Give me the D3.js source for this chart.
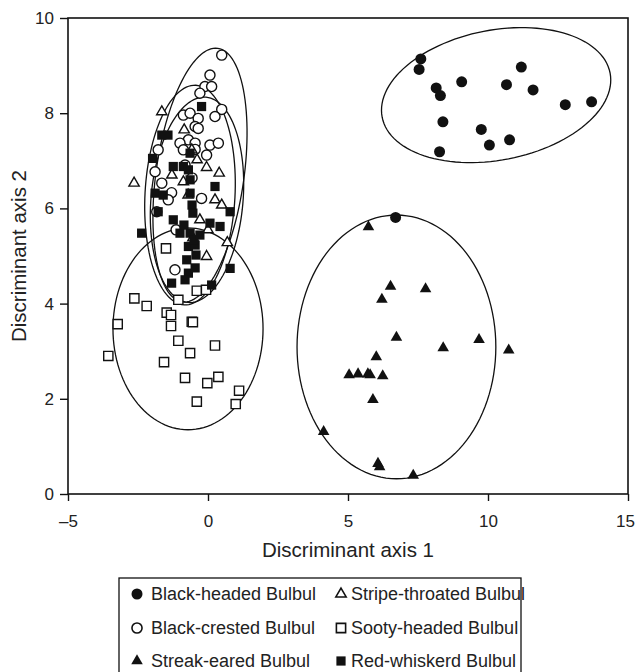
<!DOCTYPE html>
<html><head><meta charset="utf-8">
<script src="https://cdn.jsdelivr.net/npm/d3@7/dist/d3.min.js"></script>
<style>body{margin:0;background:#fff;} text{font-family:"Liberation Sans",Arial,sans-serif;fill:#222;}</style>
</head><body><svg id="c" width="635" height="672"></svg>
<script>
// ---- data ----
const blackHeaded = [[7.60,9.14],[7.54,8.92],[8.15,8.53],[8.30,8.37],[9.06,8.66],[11.19,8.97],[10.66,8.60],[11.61,8.49],[12.76,8.18],[13.70,8.24],[8.39,7.82],[9.76,7.66],[10.05,7.33],[10.77,7.44],[8.27,7.19],[6.70,5.81]];
const blackCrested = [[0.49,9.22],[0.07,8.80],[-0.11,8.56],[0.13,8.56],[-0.29,8.42],[0.49,8.08],[0.25,7.93],[-0.88,7.96],[-0.64,8.00],[-0.35,7.89],[-0.46,7.72],[-0.35,7.68],[-0.70,7.44],[-1.0,7.37],[-0.46,7.37],[0.07,7.33],[0.37,7.37],[-0.05,7.12],[-0.46,7.24],[-0.88,7.23],[-1.78,7.23],[-1.89,6.77],[-1.65,6.53],[-1.30,6.33],[-0.23,6.21],[-1.83,5.93],[-1.42,6.18],[-1.18,4.71],[-0.82,6.91],[-0.57,6.64],[-1.14,5.55]];
const streakEared = [[5.73,5.61],[6.52,4.36],[7.77,4.31],[6.21,4.09],[6.73,3.29],[8.40,3.07],[9.68,3.24],[10.74,3.02],[6.01,2.88],[5.04,2.50],[5.36,2.52],[5.71,2.52],[5.79,2.50],[6.24,2.48],[5.89,1.98],[4.13,1.31],[6.07,0.64],[6.13,0.57],[7.33,0.39]];
const stripeThroated = [[-1.65,8.03],[-0.85,7.65],[-0.58,7.23],[-0.88,6.56],[-0.05,6.86],[0.40,6.74],[0.25,6.18],[0.49,6.07],[-0.29,5.76],[0.69,5.28],[-0.05,4.99],[-2.64,6.53],[-0.39,7.02],[-0.71,6.28],[-1.29,6.70],[0.0,5.55],[-0.54,5.38]];
const sootyHeaded = [[-2.63,4.11],[-2.19,3.95],[-1.475,3.81],[-1.32,3.76],[-1.32,3.53],[-0.58,3.62],[-0.54,3.61],[-3.225,3.57],[-1.06,3.22],[0.25,3.12],[-0.64,2.96],[-3.56,2.90],[-1.57,2.77],[-0.82,2.44],[-0.025,2.33],[0.37,2.46],[1.11,2.17],[-0.40,1.94],[0.99,1.89],[-1.5,5.16],[-0.40,4.27],[-0.07,4.29],[-1.06,4.08]];
const redWhiskered = [[-0.23,8.14],[-1.65,7.54],[-1.43,7.54],[-1.98,7.05],[-1.24,6.88],[-0.88,6.88],[-0.70,6.81],[-0.64,6.60],[-0.64,6.32],[0.25,6.46],[-1.89,6.32],[-1.60,6.28],[-1.78,5.93],[0.79,5.93],[-1.24,5.76],[0.07,5.69],[0.43,5.62],[-1.0,5.48],[-0.64,5.48],[-2.37,5.48],[-0.70,5.20],[-0.46,5.23],[-0.76,4.92],[-0.70,4.64],[0.79,4.74],[0.13,4.39],[-1.30,4.43],[-0.64,7.16],[-0.57,6.07],[-0.54,5.90],[-0.50,5.34],[-0.43,5.02],[-0.86,5.65],[-0.29,5.44],[-0.46,4.75],[-0.82,4.50]];
// ellipses: centre, first conjugate semi-axis vector, second conjugate semi-axis vector (data units)
const ellipseCentres = [[10.29,8.38],[6.73,3.09],[-0.714,3.47],[-0.286,6.70],[-0.643,6.28],[-0.393,6.18]];
const ellipseAxisU = [[4.07,0.465],[3.55,0],[2.68,0],[0.636,2.664],[0.206,2.307],[0.321,2.156]];
const ellipseAxisV = [[-0.443,1.34],[0,2.77],[0,2.12],[1.556,-0.128],[1.605,-0.049],[1.637,-0.084]];
const xTicks = [-5,0,5,10,15];
const yTicks = [0,2,4,6,8,10];
const legendLabels = [["Black-headed Bulbul","Stripe-throated Bulbul"],["Black-crested Bulbul","Sooty-headed Bulbul"],["Streak-eared Bulbul","Red-whiskerd Bulbul"]];

// ---- chart ----
const svg = d3.select("#c");
const L=68,R=628,T=18,B=494;
const x = d3.scaleLinear().domain([-5,15]).range([L,R]);
const y = d3.scaleLinear().domain([0,10]).range([B,T]);

svg.append("rect").attr("x",L).attr("y",T).attr("width",R-L).attr("height",B-T)
  .attr("fill","none").attr("stroke","#111").attr("stroke-width",1.6);

const line = d3.line().x(d=>x(d[0])).y(d=>y(d[1]));
const ts = d3.range(0,361,3).map(a=>a*Math.PI/180);
ellipseCentres.forEach((c,i)=>{
  const u=ellipseAxisU[i], v=ellipseAxisV[i];
  const pts = ts.map(t=>[c[0]+u[0]*Math.cos(t)+v[0]*Math.sin(t), c[1]+u[1]*Math.cos(t)+v[1]*Math.sin(t)]);
  svg.append("path").attr("d",line(pts)+"Z").attr("fill","none").attr("stroke","#111").attr("stroke-width",1.3);
});

const sym = {
  circleF: d3.symbol().type(d3.symbolCircle).size(95)(),
  circleO: d3.symbol().type(d3.symbolCircle).size(80)(),
  triO: d3.symbol().type(d3.symbolTriangle).size(46)(),
  triF: d3.symbol().type(d3.symbolTriangle).size(58)(),
  sq: d3.symbol().type(d3.symbolSquare).size(85)()
};
function drawPts(data, path, fill, stroke){
  svg.append("g").selectAll("path").data(data).join("path")
    .attr("d",path).attr("transform",d=>`translate(${x(d[0])},${y(d[1])})`)
    .attr("fill",fill).attr("stroke",stroke).attr("stroke-width",1.4);
}
drawPts(sootyHeaded, sym.sq, "#fff", "#111");
drawPts(blackCrested, sym.circleO, "#fff", "#111");
drawPts(stripeThroated, sym.triO, "#fff", "#111");
drawPts(redWhiskered, sym.sq, "#111", "none");
drawPts(streakEared, sym.triF, "#111", "none");
drawPts(blackHeaded, sym.circleF, "#111", "none");

const xa = svg.append("g").attr("transform",`translate(0,${B})`)
  .call(d3.axisBottom(x).tickValues(xTicks).tickSize(7).tickFormat(d=>d<0?"\u2013"+Math.abs(d):d));
const ya = svg.append("g").attr("transform",`translate(${L},0)`)
  .call(d3.axisLeft(y).tickValues(yTicks).tickSize(8));
[xa,ya].forEach(a=>{a.select(".domain").remove();a.selectAll("line").attr("stroke","#111").attr("stroke-width",1.4);
  a.selectAll("text").style("font-size","17px").style("font-family","'Liberation Sans',Arial,sans-serif").attr("fill","#222");});
xa.selectAll("text").attr("dy","1.35em");
xa.selectAll("text").filter(d=>d===15).attr("dx",-3);
ya.selectAll("text").attr("x",-14);

svg.append("text").attr("x",(L+R)/2).attr("y",557).attr("text-anchor","middle").style("font-size","20.5px").text("Discriminant axis 1");
svg.append("text").attr("transform",`translate(26,${(T+B)/2}) rotate(-90)`).attr("text-anchor","middle").style("font-size","20.5px").text("Discriminant axis 2");

// legend
svg.append("rect").attr("x",119).attr("y",578).attr("width",402).attr("height",110)
  .attr("fill","none").attr("stroke","#111").attr("stroke-width",1.3);
const legSyms = [[[sym.circleF,"#111","none"],[sym.triO,"#fff","#111"]],[[sym.circleO,"#fff","#111"],[sym.sq,"#fff","#111"]],[[sym.triF,"#111","none"],[sym.sq,"#111","none"]]];
const colMarkX=[137,341], colTextX=[151,351], rowY=[594,628,661];
legendLabels.forEach((row,r)=>row.forEach((lab,c)=>{
  const s=legSyms[r][c];
  svg.append("path").attr("d",s[0]).attr("transform",`translate(${colMarkX[c]},${rowY[r]})`).attr("fill",s[1]).attr("stroke",s[2]).attr("stroke-width",1.6);
  svg.append("text").attr("x",colTextX[c]).attr("y",rowY[r]+6).style("font-size","18px").text(lab);
}));
</script></body></html>
